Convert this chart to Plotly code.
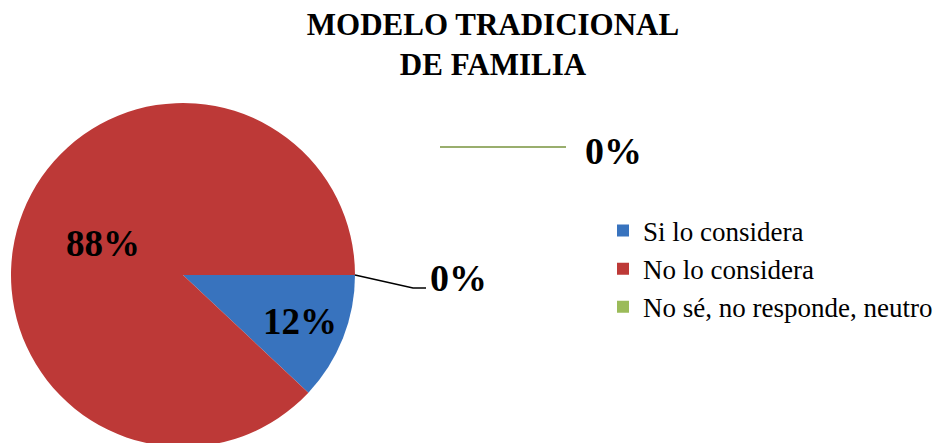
import plotly.graph_objects as go

# data
labels = ["Si lo considera", "No lo considera", "No sé, no responde, neutro"]
values = [12, 88, 0]
colors = ["#3873BE", "#BD3937", "#9BBB59"]
title = "MODELO TRADICIONAL<br>DE FAMILIA"

OFF = 8  # page body margin
W, H = 945 - OFF, 443
serif = "Liberation Serif"

# screen px -> paper coords
def px(x):
    return (x - OFF) / W

def py(y):
    return 1 - (y - OFF) / H

fig = go.Figure()
fig.add_trace(go.Pie(
    labels=labels, values=values, sort=False,
    direction="clockwise", rotation=90,
    marker=dict(colors=colors, line=dict(width=0)),
    texttemplate=["%{percent:.0%}", "%{percent:.0%}", ""],
    textposition="inside", insidetextorientation="horizontal",
    textfont=dict(family=serif, size=37, color="black", weight="bold"),
    domain=dict(x=[px(11), px(355)], y=[py(447), py(103)]),
    hoverinfo="label+percent",
))

# leader for the zero slice
fig.add_shape(type="path",
              path=f"M {px(355)} {py(275)} L {px(413)} {py(288)} L {px(426)} {py(288)}",
              xref="paper", yref="paper", line=dict(color="black", width=1.5))
fig.add_annotation(x=px(428), y=py(278), xref="paper", yref="paper",
                   text="<b>0%</b>", showarrow=False, xanchor="left", yanchor="middle",
                   font=dict(family=serif, size=38, color="black"))

# stray label at top
fig.add_shape(type="line", x0=px(440), x1=px(566), y0=py(147), y1=py(147),
              xref="paper", yref="paper", line=dict(color="#77933C", width=1.5))
fig.add_annotation(x=px(583), y=py(151), xref="paper", yref="paper",
                   text="<b>0%</b>", showarrow=False, xanchor="left", yanchor="middle",
                   font=dict(family=serif, size=38, color="black"))

fig.update_layout(
    width=W, height=H,
    margin=dict(l=0, r=0, t=0, b=0),
    paper_bgcolor="white",
    title=dict(text=f"<b>{title}</b>", x=px(493), xanchor="center", y=py(35), yanchor="middle",
               font=dict(family=serif, size=31, color="black")),
    legend=dict(x=px(603), y=py(269), xanchor="left", yanchor="middle",
                font=dict(family=serif, size=27, color="black"),
                bgcolor="rgba(0,0,0,0)"),
)

fig.write_html("out.html")
